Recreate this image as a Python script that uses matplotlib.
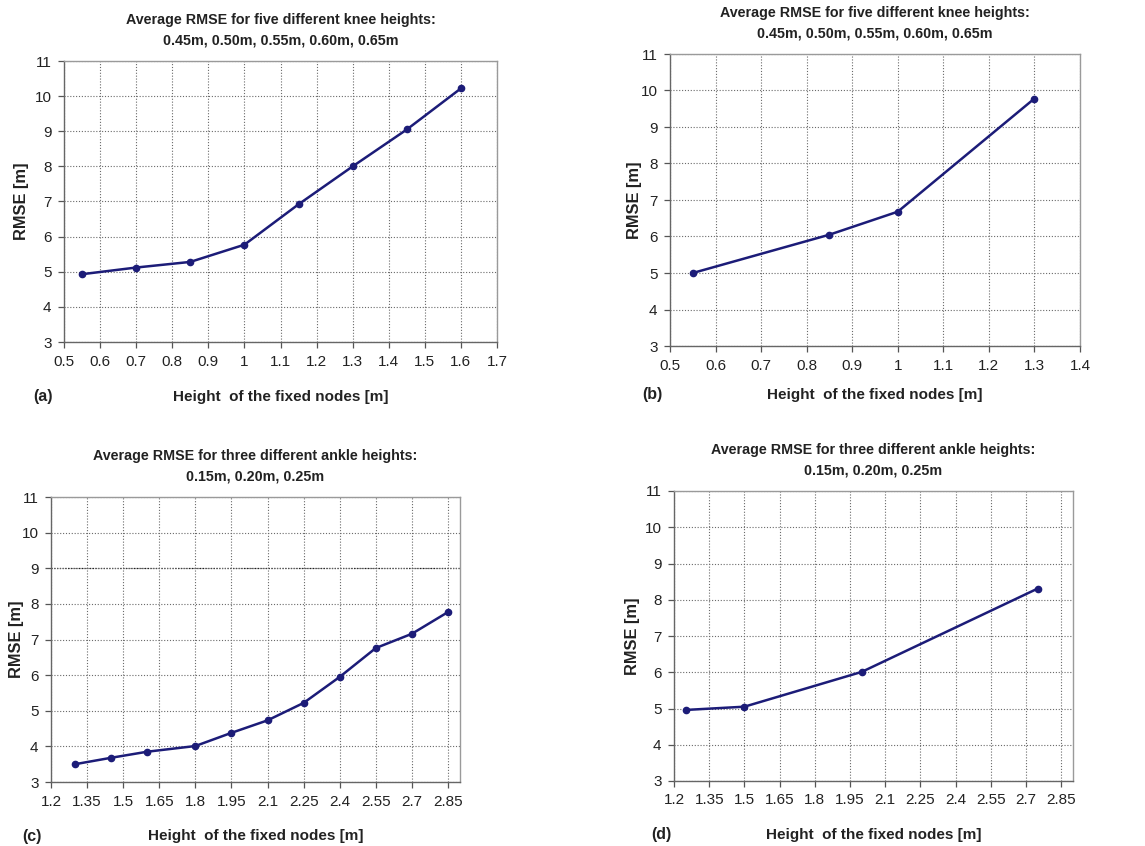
import matplotlib
matplotlib.use("Agg")
import matplotlib.pyplot as plt
import numpy as np

plt.rcParams['font.family'] = ['Liberation Sans', 'DejaVu Sans']

# knee height runs
knee_title = "Average RMSE for five different knee heights:\n0.45m, 0.50m, 0.55m, 0.60m, 0.65m"
a_height = [0.55, 0.7, 0.85, 1.0, 1.15, 1.3, 1.45, 1.6]
a_rmse = [4.93, 5.12, 5.28, 5.77, 6.92, 8.0, 9.05, 10.22]
b_height = [0.55, 0.85, 1.0, 1.3]
b_rmse = [5.0, 6.05, 6.68, 9.78]

# ankle height runs
ankle_title = "Average RMSE for three different ankle heights:\n0.15m, 0.20m, 0.25m"
c_height = [1.3, 1.45, 1.6, 1.8, 1.95, 2.1, 2.25, 2.4, 2.55, 2.7, 2.85]
c_rmse = [3.5, 3.68, 3.85, 4.01, 4.38, 4.73, 5.22, 5.95, 6.76, 7.16, 7.77]
d_height = [1.25, 1.5, 2.0, 2.75]
d_rmse = [4.96, 5.05, 6.01, 8.31]

knee_ticks = ["0.5", "0.6", "0.7", "0.8", "0.9", "1", "1.1", "1.2", "1.3", "1.4", "1.5", "1.6", "1.7"]
ankle_ticks = ["1.2", "1.35", "1.5", "1.65", "1.8", "1.95", "2.1", "2.25", "2.4", "2.55", "2.7", "2.85"]
y_ticks = [3, 4, 5, 6, 7, 8, 9, 10, 11]

xlabel = "Height  of the fixed nodes [m]"
ylabel = "RMSE [m]"
line_color = "#1c1c78"
grid_color = "#6a6a6a"
text_color = "#222222"


def panel(fig, rect, x, y, ticks, xmax, title, tag, tag_xy, xlab_y, ylab_x):
    ax = fig.add_axes(rect)
    tick_vals = [float(t) for t in ticks]
    ax.plot(x, y, color=line_color, lw=1.8, marker='o', ms=4.5,
            markerfacecolor=line_color, markeredgecolor=line_color, zorder=3)
    ax.set_xlim(tick_vals[0], xmax)
    ax.set_ylim(3, 11)
    ax.set_xticks(tick_vals)
    ax.set_xticklabels(ticks)
    ax.set_yticks(y_ticks)
    ax.grid(True, linestyle=(0, (1, 1.6)), color=grid_color, lw=0.8)
    ax.tick_params(direction='out', length=4, width=0.9, colors="#555555",
                   labelcolor=text_color, labelsize=11, pad=5)
    for side in ['left', 'bottom']:
        ax.spines[side].set_color("#666666")
        ax.spines[side].set_linewidth(1.0)
    for side in ['top', 'right']:
        ax.spines[side].set_color("#9a9a9a")
        ax.spines[side].set_linewidth(1.0)
    ax.set_title(title, fontsize=10.3, fontweight='bold', color=text_color,
                 linespacing=1.6, pad=12)
    W, H = fig.get_size_inches() * fig.dpi
    fig.text(tag_xy[0] / W, 1 - tag_xy[1] / H, tag, fontsize=11.5,
             fontweight='bold', color=text_color, ha='left', va='center')
    cx = rect[0] + rect[2] / 2
    fig.text(cx, 1 - xlab_y / H, xlabel, fontsize=11, fontweight='bold',
             color=text_color, ha='center', va='center')
    cy = rect[1] + rect[3] / 2
    fig.text(ylab_x / W, cy, ylabel, fontsize=11.8, fontweight='bold',
             color=text_color, ha='center', va='center', rotation=90)
    return ax


fig = plt.figure(figsize=(11.45, 8.46), dpi=100)
W, H = 1145, 846


def rect_px(left, right, top, bottom):
    return [left / W, 1 - bottom / H, (right - left) / W, (bottom - top) / H]


panel(fig, rect_px(64, 497, 61, 342), a_height, a_rmse, knee_ticks, 1.7,
      knee_title, "(a)", (33, 397), 397, 22)
panel(fig, rect_px(670, 1080, 54, 346), b_height, b_rmse, knee_ticks[:10], 1.4,
      knee_title, "(b)", (642, 395), 395, 635)
ax_c = panel(fig, rect_px(51, 460, 497, 782), c_height, c_rmse, ankle_ticks, 2.9,
             ankle_title, "(c)", (22, 836), 836, 17)
ax_c.axhline(9, color="#222222", lw=0.9, linestyle=(0, (1, 1.2)), zorder=1)
panel(fig, rect_px(674, 1073, 491, 781), d_height, d_rmse, ankle_ticks, 2.9,
      ankle_title, "(d)", (651, 835), 835, 633)

fig.savefig("out.png", dpi=100)
